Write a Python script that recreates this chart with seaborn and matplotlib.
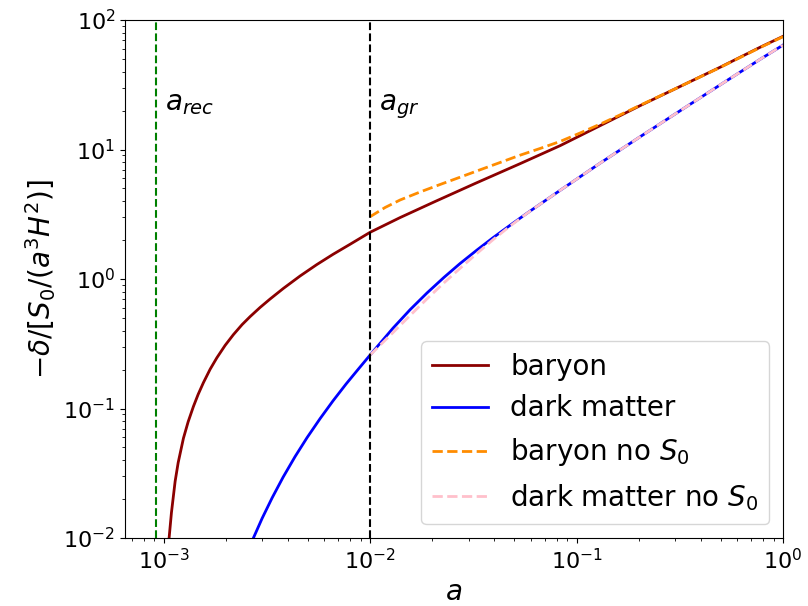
import numpy as np
import pandas as pd
import matplotlib
matplotlib.use("Agg")
import matplotlib.pyplot as plt
import seaborn as sns

# values (log-log axes)
a_rec = 9.2e-4
a_gr = 1.0e-2

a_baryon = [1.063e-3, 1.091e-3, 1.137e-3, 1.176e-3, 1.247e-3, 1.314e-3, 1.394e-3,
            1.469e-3, 1.559e-3, 1.680e-3, 1.810e-3, 1.985e-3, 2.178e-3, 2.399e-3,
            2.624e-3, 2.934e-3, 3.279e-3, 3.802e-3, 4.581e-3, 5.518e-3, 6.617e-3,
            8.00e-3, 0.01, 0.01397, 0.02065, 0.03225, 0.05325, 0.08321, 0.1300,
            0.2030, 0.3171, 0.4953, 0.7737, 1.0]
baryon = [0.0100, 0.01568, 0.02740, 0.03815, 0.05887, 0.07878, 0.1036, 0.1283,
          0.1585, 0.2011, 0.2462, 0.3071, 0.3721, 0.4444, 0.5125, 0.6035, 0.7008,
          0.8460, 1.055, 1.292, 1.551, 1.854, 2.294, 2.980, 3.967, 5.464, 7.77,
          10.70, 15.27, 21.79, 30.65, 43.13, 61.53, 74.75]

a_dm = [2.722e-3, 2.999e-3, 3.353e-3, 3.790e-3, 4.332e-3, 4.953e-3, 5.726e-3,
        6.617e-3, 7.651e-3, 8.746e-3, 0.01, 0.01292, 0.01562, 0.01888, 0.02283,
        0.02728, 0.03298, 0.03941, 0.04764, 0.05758, 0.08321, 0.1300, 0.2030,
        0.3171, 0.4953, 0.7737, 1.0]
dm = [0.0100, 0.01417, 0.02040, 0.02948, 0.04252, 0.05961, 0.08356, 0.1147,
      0.1546, 0.2003, 0.2588, 0.4177, 0.5792, 0.7809, 1.031, 1.317, 1.677,
      2.084, 2.598, 3.222, 4.833, 7.838, 12.53, 19.89, 31.49, 49.63, 64.00]

a_baryon_nos0 = [0.01, 0.01182, 0.01397, 0.01746, 0.02183, 0.02728, 0.03410,
                 0.04261, 0.05325, 0.06654, 0.08321, 0.1040, 0.1300, 0.1625,
                 0.2030, 0.3171, 0.4953, 0.7737, 1.0]
baryon_nos0 = [3.027, 3.565, 4.074, 4.697, 5.367, 6.110, 6.970, 7.935, 9.036,
               10.18, 11.53, 13.41, 15.68, 18.50, 21.94, 30.65, 42.98, 61.21, 74.30]

a_dm_nos0 = [0.01, 0.01292, 0.01562, 0.01888, 0.02283, 0.02728, 0.03298,
             0.03941, 0.04764, 0.05758, 0.08321, 0.1300, 0.2030, 0.3171,
             0.4953, 0.7737, 1.0]
dm_nos0 = [0.2588, 0.3863, 0.5225, 0.7033, 0.9363, 1.209, 1.579, 2.012, 2.561,
           3.216, 4.833, 7.838, 12.53, 19.89, 31.49, 49.63, 64.00]

df_b = pd.DataFrame({"a": a_baryon, "y": baryon})
df_d = pd.DataFrame({"a": a_dm, "y": dm})
df_bn = pd.DataFrame({"a": a_baryon_nos0, "y": baryon_nos0})
df_dn = pd.DataFrame({"a": a_dm_nos0, "y": dm_nos0})

fig = plt.figure(figsize=(8.08, 6.06), dpi=100)
ax = fig.add_axes([125/808, 68/606, 658/808, 518/606])

sns.lineplot(data=df_b, x="a", y="y", color="darkred", lw=2, label="baryon", ax=ax)
sns.lineplot(data=df_d, x="a", y="y", color="blue", lw=2, label="dark matter", ax=ax)
sns.lineplot(data=df_bn, x="a", y="y", color="darkorange", lw=2, ls="--",
             label="baryon no $S_0$", ax=ax)
sns.lineplot(data=df_dn, x="a", y="y", color="pink", lw=2, ls="--",
             label="dark matter no $S_0$", ax=ax)

ax.axvline(a_rec, color="green", ls="--", lw=1.5)
ax.axvline(a_gr, color="black", ls="--", lw=1.5)
ax.text(a_rec*1.1, 20, r"$a_{rec}$", fontsize=20)
ax.text(a_gr*1.1, 20, r"$a_{gr}$", fontsize=20)

ax.set_xscale("log")
ax.set_yscale("log")
ax.set_xlim(6.5e-4, 1)
ax.set_ylim(1e-2, 1e2)
ax.set_xlabel("$a$", fontsize=20)
ax.set_ylabel(r"$-\delta/[S_0/(a^3H^2)]$", fontsize=20)
ax.tick_params(labelsize=16)
ax.legend(loc="lower right", fontsize=20)

fig.savefig("out.png", dpi=100)
